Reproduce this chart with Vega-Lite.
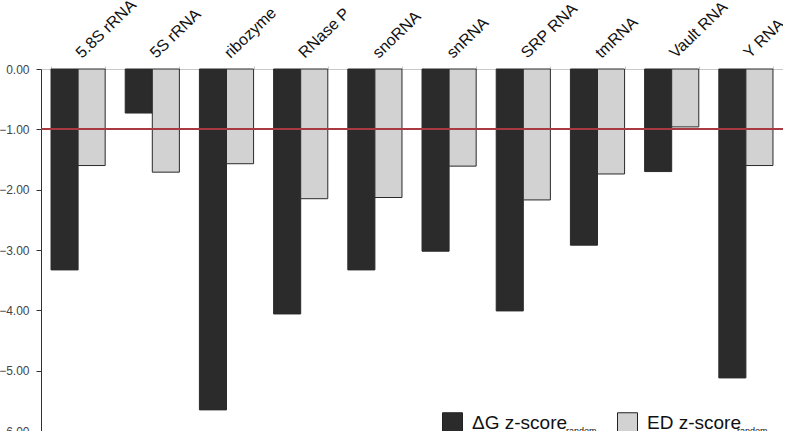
{
  "$schema": "https://vega.github.io/schema/vega-lite/v6.json",
  "width": 742,
  "height": 362,
  "autosize": {"type": "none"},
  "padding": {"left": 41, "top": 69, "right": 0, "bottom": 0},
  "background": "white",
  "config": {
    "view": {"stroke": null},
    "font": "Liberation Sans",
    "axis": {"grid": false, "title": null}
  },
  "data": {
    "values": [
      {"category": "5.8S rRNA", "series": "deltaG", "value": -3.33},
      {"category": "5.8S rRNA", "series": "ensembleDefect", "value": -1.60},
      {"category": "5S rRNA", "series": "deltaG", "value": -0.73},
      {"category": "5S rRNA", "series": "ensembleDefect", "value": -1.71},
      {"category": "ribozyme", "series": "deltaG", "value": -5.65},
      {"category": "ribozyme", "series": "ensembleDefect", "value": -1.57},
      {"category": "RNase P", "series": "deltaG", "value": -4.06},
      {"category": "RNase P", "series": "ensembleDefect", "value": -2.15},
      {"category": "snoRNA", "series": "deltaG", "value": -3.33},
      {"category": "snoRNA", "series": "ensembleDefect", "value": -2.13},
      {"category": "snRNA", "series": "deltaG", "value": -3.02},
      {"category": "snRNA", "series": "ensembleDefect", "value": -1.61},
      {"category": "SRP RNA", "series": "deltaG", "value": -4.01},
      {"category": "SRP RNA", "series": "ensembleDefect", "value": -2.17},
      {"category": "tmRNA", "series": "deltaG", "value": -2.92},
      {"category": "tmRNA", "series": "ensembleDefect", "value": -1.74},
      {"category": "Vault RNA", "series": "deltaG", "value": -1.70},
      {"category": "Vault RNA", "series": "ensembleDefect", "value": -0.96},
      {"category": "Y RNA", "series": "deltaG", "value": -5.12},
      {"category": "Y RNA", "series": "ensembleDefect", "value": -1.60}
    ]
  },
  "layer": [
    {
      "mark": {"type": "bar", "stroke": "#2a2a2a", "strokeWidth": 1},
      "encoding": {
        "x": {
          "field": "category",
          "type": "nominal",
          "sort": null,
          "scale": {"paddingInner": 0.27, "paddingOuter": 0.135},
          "axis": {
            "orient": "top",
            "labelAngle": -44,
            "labelAlign": "left",
            "labelBaseline": "middle",
            "labelFontSize": 16,
            "labelColor": "#111111",
            "labelPadding": 11,
            "tickSize": 3,
            "tickColor": "#c8c8c8",
            "domainColor": "#c8c8c8",
            "tickBand": "extent"
          }
        },
        "xOffset": {"field": "series"},
        "y": {
          "field": "value",
          "type": "quantitative",
          "scale": {"domain": [-6, 0], "nice": false, "zero": false},
          "axis": {
            "values": [0, -1, -2, -3, -4, -5, -6],
            "format": ".2f",
            "labelFontSize": 12,
            "labelColor": "#444444",
            "labelPadding": 7,
            "tickSize": 5,
            "tickColor": "#333333",
            "domainColor": "#333333"
          }
        },
        "color": {
          "field": "series",
          "type": "nominal",
          "scale": {"range": ["#2b2b2b", "#d2d2d2"]},
          "legend": {
            "orient": "none",
            "legendX": 401,
            "legendY": 343,
            "direction": "horizontal",
            "title": null,
            "padding": 0,
            "symbolType": "square",
            "symbolSize": 400,
            "symbolStrokeColor": "#222222",
            "symbolStrokeWidth": 1,
            "labelFont": "Liberation Sans",
            "labelFontSize": 19,
            "labelColor": "#111111",
            "labelOffset": 9,
            "columnPadding": 47,
            "labelExpr": "datum.label == 'deltaG' ? 'ΔG z-score' : 'ED z-score'"
          }
        },
        "opacity": {
          "field": "series",
          "type": "nominal",
          "scale": {"domain": ["deltaG", "ensembleDefect"], "range": [1, 1]},
          "legend": {
            "orient": "none",
            "legendX": 401,
            "legendY": 300,
            "direction": "horizontal",
            "title": null,
            "padding": 0,
            "symbolType": "square",
            "symbolSize": 15376,
            "symbolFillColor": "transparent",
            "symbolStrokeColor": "transparent",
            "symbolStrokeWidth": 0,
            "labelFont": "Liberation Sans",
            "labelFontSize": 9,
            "labelColor": "#111111",
            "labelOffset": 0,
            "columnPadding": 16,
            "labelExpr": "'random'",
            "encode": {"symbols": {"update": {"opacity": {"value": 0}, "fillOpacity": {"value": 0}, "strokeOpacity": {"value": 0}}}}
          }
        }
      }
    },
    {
      "mark": {"type": "rule", "color": "#a83a40", "strokeWidth": 1.5},
      "encoding": {"y": {"datum": -1}}
    }
  ]
}
